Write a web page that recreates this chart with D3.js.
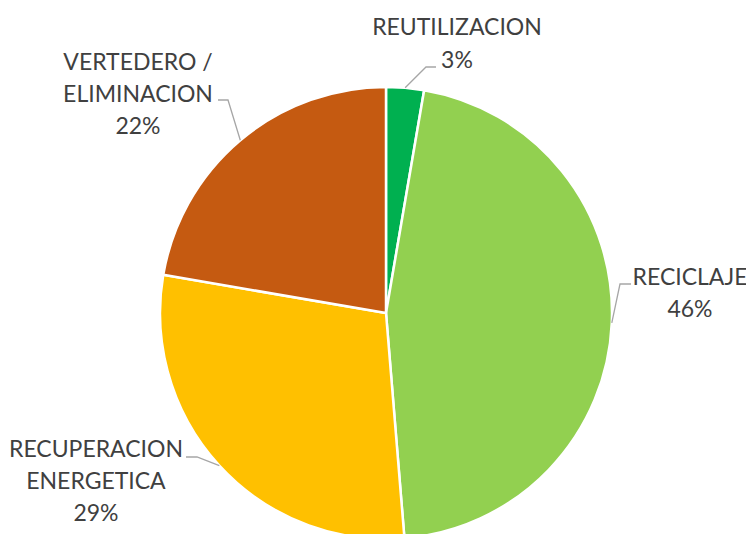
<!DOCTYPE html>
<html>
<head>
<meta charset="utf-8">
<script src="https://cdn.jsdelivr.net/npm/d3@7"></script>
<style>
  html, body { margin: 0; padding: 0; background: #fff; }
  svg { display: block; }
</style>
</head>
<body>
<div id="chart"></div>
<script>
// chart data
var categories = ['REUTILIZACION', 'RECICLAJE', 'RECUPERACION ENERGETICA', 'VERTEDERO / ELIMINACION'];
var values = [2.7, 46.0, 29.0, 22.3];
var labelLines = [['REUTILIZACION'], ['RECICLAJE'], ['RECUPERACION', 'ENERGETICA'], ['VERTEDERO /', 'ELIMINACION']];
var colors = ['#00B050', '#92D050', '#FFC000', '#C55A11'];

var width = 746, height = 534;
var cx = 386, cy = 313, radius = 226;

// where each label sits (center x, first baseline y) and the leader elbow
var labelPos = [
  { x: 457, y: 35, elbow: [426, 67], end: [436, 67] },
  { x: 690, y: 285, elbow: [620, 284], end: [631, 284] },
  { x: 96, y: 457, elbow: [197, 457], end: [186, 457] },
  { x: 138, y: 70, elbow: [228, 100], end: [218, 100] }
];

var svg = d3.select('#chart')
  .append('svg')
  .attr('width', width)
  .attr('height', height);

var pie = d3.pie().sort(null).value(function(d) { return d; });
var arcs = pie(values);

var arc = d3.arc().innerRadius(0).outerRadius(radius);

var g = svg.append('g')
  .attr('transform', 'translate(' + cx + ',' + cy + ')');

g.selectAll('path.slice')
  .data(arcs)
  .enter().append('path')
  .attr('class', 'slice')
  .attr('d', arc)
  .attr('fill', function(d, i) { return colors[i]; })
  .attr('stroke', '#fff')
  .attr('stroke-width', 2.5)
  .attr('stroke-linejoin', 'round');

// leader lines
arcs.forEach(function(d, i) {
  var mid = (d.startAngle + d.endAngle) / 2;
  var sx = cx + radius * Math.sin(mid);
  var sy = cy - radius * Math.cos(mid);
  var p = labelPos[i];
  svg.append('polyline')
    .attr('points', [[sx, sy], p.elbow, p.end].map(function(q) { return q.join(','); }).join(' '))
    .attr('fill', 'none')
    .attr('stroke', '#A6A6A6')
    .attr('stroke-width', 1.3);
});

// labels
var fmt = d3.format('.0%');
arcs.forEach(function(d, i) {
  var p = labelPos[i];
  var lines = labelLines[i].concat([fmt(values[i] / 100)]);
  var t = svg.append('text')
    .attr('text-anchor', 'middle')
    .attr('font-family', 'Lato, "Open Sans", sans-serif')
    .attr('font-size', 23)
    .attr('fill', '#404040');
  var lh = (i === 0) ? 33 : (i === 1 ? 32 : 32);
  lines.forEach(function(s, k) {
    t.append('tspan')
      .attr('x', p.x)
      .attr('y', p.y + k * lh)
      .text(s);
  });
});
</script>
</body>
</html>
